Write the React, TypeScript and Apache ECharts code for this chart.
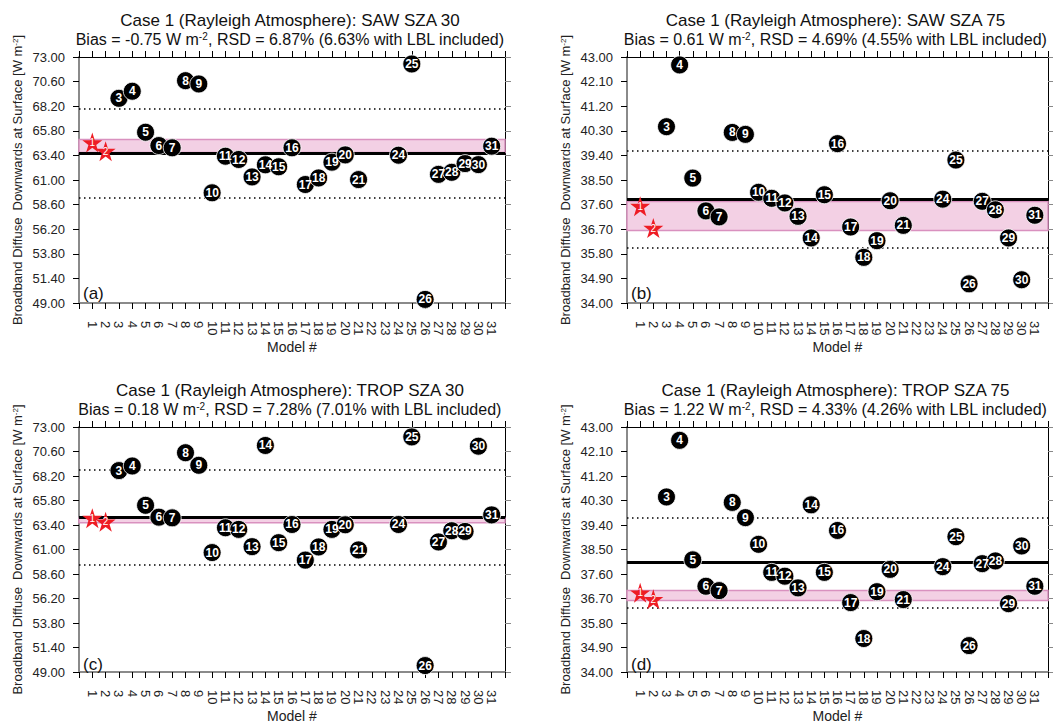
import React, { useEffect, useRef } from "react";
import * as echarts from "echarts";

// ---------- data ----------
const models = [1, 2, 3, 4, 5, 6, 7, 8, 9, 10, 11, 12, 13, 14, 15, 16, 17, 18, 19, 20, 21, 22, 23, 24, 25, 26, 27, 28, 29, 30, 31];
const lblModels = [1, 2];

const sawSza30 = [64.65, 63.81, 68.97, 69.66, 65.66, 64.36, 64.14, 70.69, 70.37, 59.75, 63.32, 63.0, 61.3, 62.48, 62.29, 64.14, 60.56, 61.2, 62.74, 63.45, 61.04, null, null, 63.42, 72.32, 49.35, 61.55, 61.75, 62.6, 62.5, 64.3];
const sawSza75 = [37.54, 36.74, 40.45, 42.71, 38.57, 37.37, 37.15, 40.24, 40.17, 38.05, 37.83, 37.66, 37.17, 36.38, 37.96, 39.83, 36.78, 35.67, 36.28, 37.74, 36.84, null, null, 37.8, 39.23, 34.7, 37.72, 37.41, 36.38, 34.85, 37.21];
const tropSza30 = [64.07, 63.71, 68.73, 69.18, 65.33, 64.17, 64.1, 70.48, 69.25, 60.7, 63.13, 62.97, 61.28, 71.19, 61.67, 63.45, 59.96, 61.25, 62.97, 63.42, 60.96, null, null, 63.45, 72.03, 49.63, 61.74, 62.84, 62.77, 71.12, 64.39];
const tropSza75 = [36.91, 36.67, 40.43, 42.51, 38.12, 37.15, 36.99, 40.23, 39.67, 38.69, 37.66, 37.52, 37.09, 40.14, 37.66, 39.2, 36.55, 35.23, 36.95, 37.77, 36.66, null, null, 37.87, 38.97, 34.97, 37.98, 38.08, 36.51, 38.63, 37.15];

const panelSeries = [sawSza30, sawSza75, tropSza30, tropSza75];
const panelTitles = [
  "Case 1 (Rayleigh Atmosphere): SAW SZA 30",
  "Case 1 (Rayleigh Atmosphere): SAW SZA 75",
  "Case 1 (Rayleigh Atmosphere): TROP SZA 30",
  "Case 1 (Rayleigh Atmosphere): TROP SZA 75",
];
const panelBias = ["-0.75", "0.61", "0.18", "1.22"];
const panelRsd = ["6.87%", "4.69%", "7.28%", "4.33%"];
const panelRsdLbl = ["6.63%", "4.55%", "7.01%", "4.26%"];
const panelLetters = ["(a)", "(b)", "(c)", "(d)"];

// model mean (thick line), mean ± RSD (dotted), LBL range (pink band)
const meanLine = [63.62, 37.8, 64.12, 38.02];
const rsdUpper = [68.0, 39.57, 68.86, 39.66];
const rsdLower = [59.24, 36.03, 59.54, 36.37];
const lblBandLow = [63.68, 36.65, 63.62, 36.63];
const lblBandHigh = [64.95, 37.71, 64.06, 36.99];

const yTicks30 = [49.0, 51.4, 53.8, 56.2, 58.6, 61.0, 63.4, 65.8, 68.2, 70.6, 73.0];
const yTicks75 = [34.0, 34.9, 35.8, 36.7, 37.6, 38.5, 39.4, 40.3, 41.2, 42.1, 43.0];
const panelYTicks = [yTicks30, yTicks75, yTicks30, yTicks75];

// ---------- layout ----------
const FONT = "'Liberation Sans', Arial, Helvetica, sans-serif";
const grids = [
  { left: 79, top: 57, width: 426, height: 246 },
  { left: 627, top: 57, width: 421, height: 246 },
  { left: 79, top: 427, width: 426, height: 247 },
  { left: 627, top: 427, width: 421, height: 247 },
];
const STAR =
  "path://M50,0 L61.8,35.3 L99,35.3 L69,57.3 L80.5,92.7 L50,70.8 L19.5,92.7 L31,57.3 L1,35.3 L38.2,35.3 Z";

export default function App() {
  const ref = useRef<HTMLDivElement>(null);

  useEffect(() => {
    if (!ref.current) return;
    const chart = echarts.init(ref.current, undefined, { renderer: "svg" });

    const xAxes: any[] = [];
    const yAxes: any[] = [];
    const series: any[] = [];
    const graphics: any[] = [];

    grids.forEach((g, i) => {
      const ticks = panelYTicks[i];
      const ymin = ticks[0];
      const ymax = ticks[ticks.length - 1];
      xAxes.push({
        type: "value",
        gridIndex: i,
        position: "bottom",
        min: 0,
        max: 32,
        interval: 1,
        splitLine: { show: false },
        axisLine: { onZero: false, lineStyle: { color: "#8a8a8a", width: 2 } },
        axisTick: { length: 6, lineStyle: { color: "#000", width: 1 } },
        axisLabel: {
          rotate: -90,
          margin: 18,
          fontSize: 13,
          color: "#222",
          fontFamily: FONT,
          showMinLabel: true,
          showMaxLabel: true,
          formatter: (v: number) => (models.indexOf(v) >= 0 ? String(v) : ""),
        },
        name: "Model #",
        nameLocation: "middle",
        nameGap: 37,
        nameTextStyle: { fontSize: 14, color: "#222", fontFamily: FONT },
      });
      xAxes.push({
        type: "value",
        gridIndex: i,
        position: "top",
        min: 0,
        max: 32,
        interval: 1,
        splitLine: { show: false },
        axisLine: { onZero: false, lineStyle: { color: "#000", width: 1 } },
        axisTick: { length: 6, lineStyle: { color: "#000", width: 1 } },
        axisLabel: { show: false },
      });
      yAxes.push({
        type: "value",
        gridIndex: i,
        position: "left",
        min: ymin,
        max: ymax,
        splitLine: { show: false },
        axisLine: { onZero: false, lineStyle: { color: "#8a8a8a", width: 2 } },
        axisTick: { length: 6, customValues: ticks, lineStyle: { color: "#000", width: 1 } },
        axisLabel: {
          customValues: ticks,
          margin: 14,
          fontSize: 13,
          color: "#222",
          fontFamily: FONT,
          formatter: (v: number) => v.toFixed(2),
        },
        name: "Broadband Diffuse  Downwards at Surface [W m{sup|-2}]",
        nameLocation: "middle",
        nameRotate: 90,
        nameGap: 55,
        nameTextStyle: {
          fontSize: 13,
          color: "#222",
          fontFamily: FONT,
          rich: { sup: { fontSize: 8, fontFamily: FONT, color: "#222", verticalAlign: "top" } },
        },
      });
      yAxes.push({
        type: "value",
        gridIndex: i,
        position: "right",
        min: ymin,
        max: ymax,
        splitLine: { show: false },
        axisLine: { onZero: false, lineStyle: { color: "#000", width: 1 } },
        axisTick: { length: 6, customValues: ticks, lineStyle: { color: "#888", width: 1 } },
        axisLabel: { show: false, customValues: ticks },
      });

      const vals = panelSeries[i];
      const circles: any[] = [];
      const stars: any[] = [];
      models.forEach((m, k) => {
        const v = vals[k];
        if (v === null || v === undefined) return;
        if (lblModels.indexOf(m) >= 0) stars.push([m, v]);
        else circles.push([m, v]);
      });

      series.push({
        type: "scatter",
        xAxisIndex: 2 * i,
        yAxisIndex: 2 * i,
        data: circles,
        symbol: "circle",
        symbolSize: 18,
        itemStyle: { color: "#000", opacity: 1, borderColor: "#fff", borderWidth: 0.8 },
        label: {
          show: true,
          position: "inside",
          formatter: (p: any) => String(p.value[0]),
          color: "#fff",
          fontSize: 12,
          fontWeight: "bold",
          fontFamily: FONT,
        },
        z: 5,
        markArea: {
          silent: true,
          itemStyle: { color: "#f3d0e4", opacity: 1, borderColor: "#d991bf", borderWidth: 1.5 },
          data: [[{ yAxis: lblBandLow[i] }, { yAxis: lblBandHigh[i] }]],
        },
        markLine: {
          silent: true,
          symbol: "none",
          label: { show: false },
          data: [
            { yAxis: meanLine[i], lineStyle: { color: "#000", width: 3, type: "solid", opacity: 1 } },
            { yAxis: rsdUpper[i], lineStyle: { color: "#000", width: 1.5, type: [1.5, 3.5], opacity: 1 } },
            { yAxis: rsdLower[i], lineStyle: { color: "#000", width: 1.5, type: [1.5, 3.5], opacity: 1 } },
          ],
        },
      });
      series.push({
        type: "scatter",
        xAxisIndex: 2 * i,
        yAxisIndex: 2 * i,
        data: stars,
        symbol: STAR,
        symbolSize: 20,
        itemStyle: { color: "#ee1c24", opacity: 1 },
        label: {
          show: true,
          position: "inside",
          formatter: (p: any) => String(p.value[0]),
          color: "#fff",
          fontSize: 10,
          fontFamily: FONT,
        },
        z: 6,
      });

      const cx = g.left + g.width / 2;
      const topY = g.top;
      graphics.push({
        type: "text",
        x: cx - 2,
        y: topY - 37,
        style: {
          text: panelTitles[i],
          fontSize: 17,
          fontFamily: FONT,
          fill: "#111",
          align: "center",
          verticalAlign: "middle",
        },
      });
      graphics.push({
        type: "text",
        x: cx - 2,
        y: topY - 18,
        style: {
          text: `Bias = ${panelBias[i]} W m{sup|-2}, RSD = ${panelRsd[i]} (${panelRsdLbl[i]} with LBL included)`,
          fontSize: 16,
          fontFamily: FONT,
          fill: "#111",
          align: "center",
          verticalAlign: "middle",
          rich: { sup: { fontSize: 10, fontFamily: FONT, fill: "#111", verticalAlign: "top" } },
        },
      });
      graphics.push({
        type: "text",
        x: g.left + 4,
        y: g.top + g.height - 10,
        style: {
          text: panelLetters[i],
          fontSize: 17,
          fontFamily: FONT,
          fill: "#111",
          align: "left",
          verticalAlign: "middle",
        },
        z: 10,
      });
    });

    chart.setOption({
      animation: false,
      backgroundColor: "#fff",
      textStyle: { fontFamily: FONT },
      grid: grids,
      xAxis: xAxes,
      yAxis: yAxes,
      series,
      graphic: graphics,
    });

    return () => chart.dispose();
  }, []);

  return (
    <div
      ref={ref}
      style={{ position: "absolute", left: 0, top: 0, width: 1053, height: 724, background: "#fff" }}
    />
  );
}
